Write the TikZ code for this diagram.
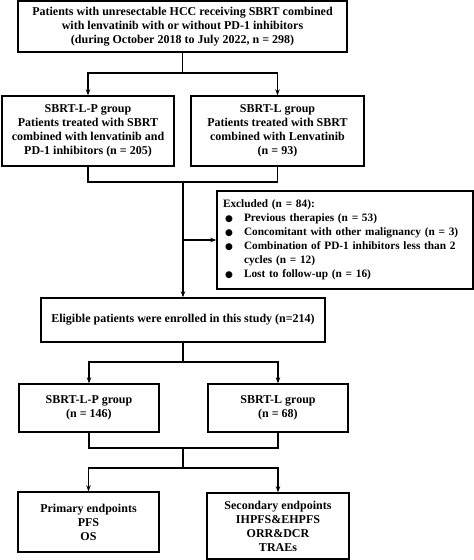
\documentclass[tikz,border=0pt]{standalone}
\usepackage{fontspec}
\setmainfont{Liberation Serif}
\newfontfamily\symfont{DejaVu Sans}
\usetikzlibrary{arrows.meta}
\newcommand{\blt}{\hspace*{2pt}{\symfont\fontsize{9}{10}\selectfont ●}}
\begin{document}
\begin{tikzpicture}[x=1pt,y=-1pt,
  box/.style={draw,line width=1.4pt,inner sep=0pt,align=center,
    font=\fontsize{12}{14}\selectfont\bfseries},
  conn/.style={line width=1.2pt},
  arr/.style={conn,-{Stealth[length=6pt,width=4.5pt]}}]
\useasboundingbox (0,0) rectangle (474,560);
\fill[white] (0,0) rectangle (474,560);
\node[box,minimum width=329pt,minimum height=51pt] (top) at (182.5,26.5)
  {Patients with unresectable HCC receiving SBRT combined\\
   with lenvatinib with or without PD-1 inhibitors\\
   (during October 2018 to July 2022, n = 298)};
\node[box,minimum width=172pt,minimum height=70pt] (lp1) at (88,131)
  {SBRT-L-P group\\ Patients treated with SBRT\\ combined with lenvatinib and\\ PD-1 inhibitors (n = 205)};
\node[box,minimum width=173pt,minimum height=70pt] (l1) at (277.5,131)
  {SBRT-L group\\ Patients treated with SBRT\\ combined with Lenvatinib\\ (n = 93)};
\node[box,minimum width=256pt,minimum height=98pt,align=left,
      text width=244pt,inner xsep=6pt,
      font=\fontsize{11.3}{14}\selectfont\bfseries] (exc) at (345,240)
  {\begin{tabular}{@{}p{21pt}@{}l@{}}
   \multicolumn{2}{@{}l@{}}{Excluded (n = 84):}\\
   \blt & Previous therapies (n = 53)\\
   \blt & Concomitant with other malignancy (n = 3)\\
   \blt & Combination of PD-1 inhibitors less than 2\\
        & cycles (n = 12)\\
   \blt & Lost to follow-up (n = 16)
   \end{tabular}};
\node[box,minimum width=284pt,minimum height=44pt] (elig) at (183,320)
  {Eligible patients were enrolled in this study (n=214)};
\node[box,minimum width=140pt,minimum height=48pt] (lp2) at (89,408)
  {SBRT-L-P group\\ (n = 146)};
\node[box,minimum width=140pt,minimum height=48pt] (l2) at (278,408)
  {SBRT-L group\\ (n = 68)};
\node[box,minimum width=141pt,minimum height=60pt] (prim) at (88.5,522)
  {Primary endpoints\\ PFS\\ OS};
\node[box,minimum width=142pt,minimum height=66pt] (sec) at (278,526)
  {Secondary endpoints\\ IHPFS\&EHPFS\\ ORR\&DCR\\ TRAEs};
% junction coordinates
\coordinate (j1) at (182.5,73);
\coordinate (j2) at (183,182);
\coordinate (j3) at (183,240);
\coordinate (j4) at (183,362);
\coordinate (j5) at (183,448);
\coordinate (j6) at (183,468);
% connectors
\draw[conn] (top.south) -- (j1);
\draw[arr] (j1) -| (lp1.north);
\draw[arr] (j1) -| (l1.north);
\draw[conn] (lp1.south) |- (j2);
\draw[conn] (l1.south) |- (j2);
\draw[arr] (j2) -- (elig.north);
\draw[arr] (j3) -- (exc.west);
\draw[conn] (elig.south) -- (j4);
\draw[arr] (j4) -| (lp2.north);
\draw[arr] (j4) -| (l2.north);
\draw[conn] (lp2.south) |- (j5);
\draw[conn] (l2.south) |- (j5);
\draw[conn] (j5) -- (j6);
\draw[arr] (j6) -| (prim.north);
\draw[arr] (j6) -| (sec.north);
\end{tikzpicture}
\end{document}
